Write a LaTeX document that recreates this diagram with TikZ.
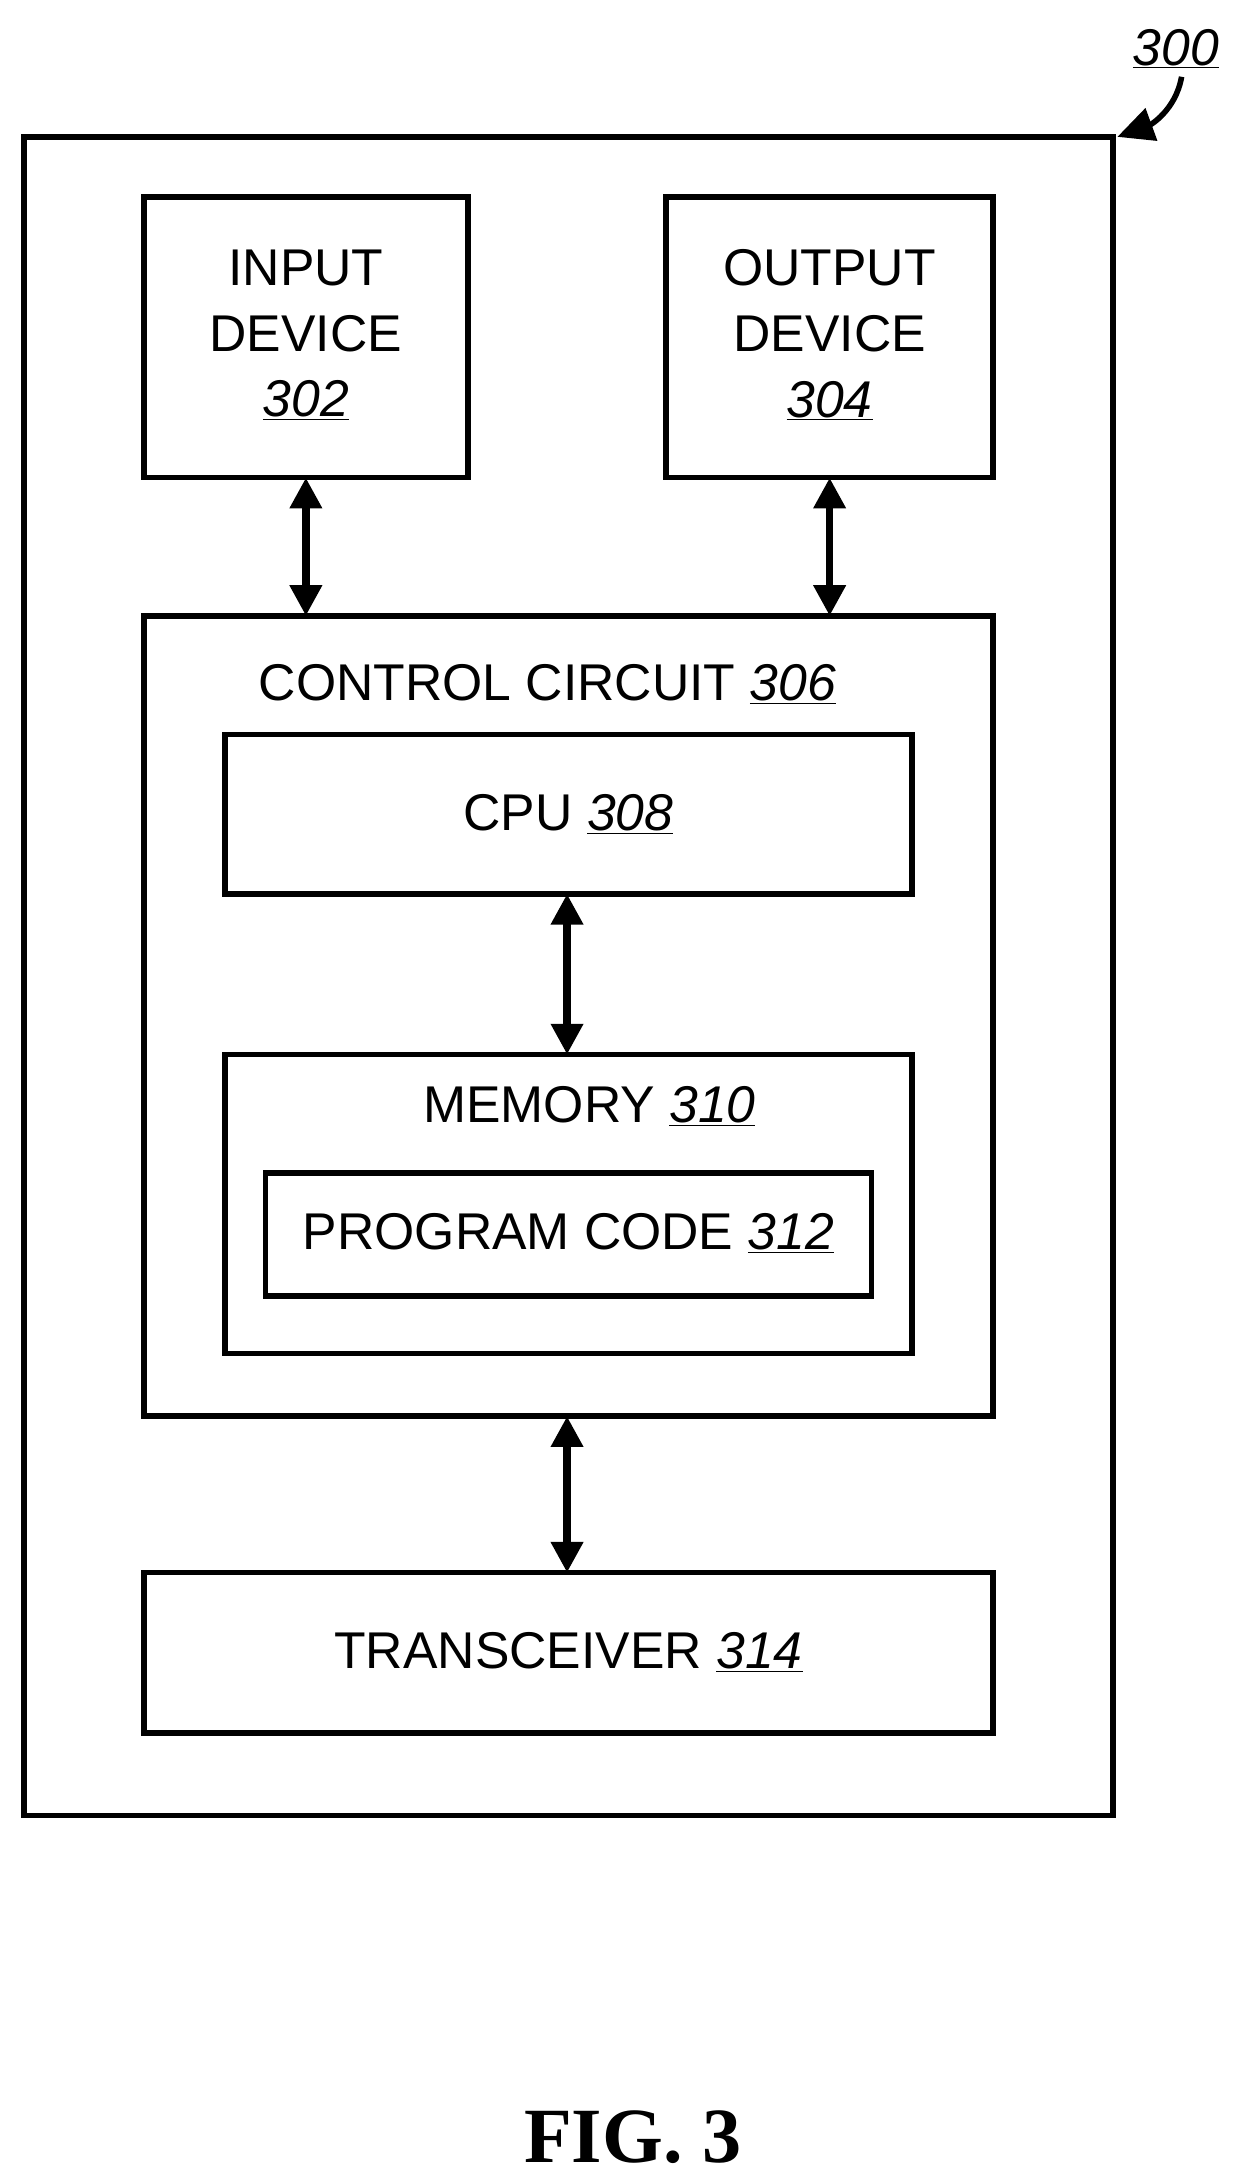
\documentclass[tikz,border=0pt]{standalone}
\usepackage{fontspec}
\setmainfont{Liberation Sans}
\newfontfamily\figfont{Liberation Serif}
\usetikzlibrary{positioning, arrows.meta}

\tikzset{
  blk/.style = {draw, line width=4pt, inner sep=0pt},
  lbl/.style = {font=\fontsize{37}{47}\selectfont, align=center},
  dbl/.style = {{Triangle[length=22pt,width=22pt]}-{Triangle[length=22pt,width=22pt]}, line width=5.5pt}
}
\newcommand{\refnum}[1]{\underline{\textit{#1}}}

\begin{document}
\begin{tikzpicture}[x=1pt, y=-1pt]
        \useasboundingbox (0,0) rectangle (884,1563);
        \draw[blk] (17,98) rectangle (797,1300);
        %---------------------------
        \draw[blk] (103,141) rectangle (335,342);
        \node[lbl] (in) at (219,240) {INPUT\\DEVICE\\\refnum{302}};
        \draw[blk] (477,141) rectangle (711,342);
        \node[lbl] (out) at (594,240) {OUTPUT\\DEVICE\\\refnum{304}};
        \draw[blk] (103,441) rectangle (711,1014);
        \node[lbl] (ctl) at (392,490) {CONTROL CIRCUIT \refnum{306}};
        \draw[blk] (161,526) rectangle (653,640);
        \node[lbl] (cpu) at (407,583) {CPU \refnum{308}};
        \draw[blk] (161,755) rectangle (653,969);
        \node[lbl] (mem) at (422,792) {MEMORY \refnum{310}};
        \draw[blk] (190,840) rectangle (624,928);
        \node[lbl] (prog) at (407,883) {PROGRAM CODE \refnum{312}};
        \draw[blk] (103,1126) rectangle (711,1241);
        \node[lbl] (trx) at (407,1183) {TRANSCEIVER \refnum{314}};
        %---------------------------
        \coordinate (inB) at (219,342);  \coordinate (ctlA) at (219,441);
        \coordinate (outB) at (594,342); \coordinate (ctlB) at (594,441);
        \coordinate (cpuB) at (406,640); \coordinate (memT) at (406,755);
        \coordinate (ctlC) at (406,1014); \coordinate (trxT) at (406,1126);
        \draw[dbl] (inB) -- (ctlA);
        \draw[dbl] (outB) -- (ctlB);
        \draw[dbl] (cpuB) -- (memT);
        \draw[dbl] (ctlC) -- (trxT);
        %--------------------------
        \node[lbl] (ref) at (842,35) {\refnum{300}};
        \coordinate (corner) at (800,98);
        \draw[line width=4pt, -{Triangle[length=26pt,width=24pt]}] (846,55) to[out=-100, in=20] (corner);
        \node[font=\figfont\bfseries\fontsize{56}{60}\selectfont] (fig) at (453,1530) {FIG. 3};
\end{tikzpicture}
\end{document}
